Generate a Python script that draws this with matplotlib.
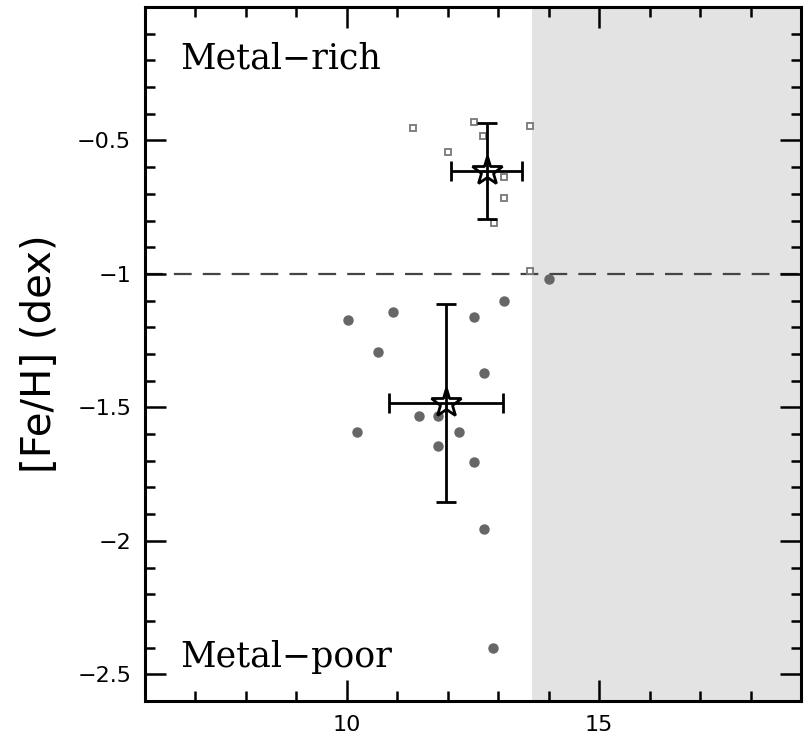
import matplotlib as mpl
mpl.use('Agg')
import matplotlib.pyplot as plt

# metal-rich sample (open squares)
rich_x = [11.31, 12.52, 12.70, 12.01, 13.62, 13.11, 13.11, 12.92, 13.62]
rich_y = [-0.453, -0.431, -0.485, -0.545, -0.445, -0.638, -0.717, -0.808, -0.99]

# metal-poor sample (filled circles)
poor_x = [10.02, 10.92, 12.52, 13.11, 10.62, 12.72, 11.42, 11.81, 10.21,
          12.22, 11.81, 12.52, 12.72, 12.90, 14.01]
poor_y = [-1.172, -1.142, -1.160, -1.100, -1.291, -1.372, -1.534, -1.534, -1.594,
          -1.594, -1.643, -1.705, -1.957, -2.40, -1.02]

# group means with errors
mean_x = [12.77, 11.96]
mean_y = [-0.613, -1.483]
mean_xerr = [0.70, 1.13]
mean_yerr = [0.18, 0.37]

split_feh = -1.0
shade_start = 13.67

fig = plt.figure(figsize=(8.08, 7.39), dpi=100)
ax = fig.add_axes([0.1795, 0.0514, 0.8118, 0.9391])

ax.axvspan(shade_start, 19, color='#e3e3e3', lw=0, zorder=0)
ax.axhline(split_feh, color='#444444', lw=1.6, dashes=(8, 5), zorder=1)

ax.plot(rich_x, rich_y, 's', ms=5, mfc='white', mec='#777777', mew=1.3, zorder=2)
ax.plot(poor_x, poor_y, 'o', ms=6.5, mfc='#666666', mec='#666666', zorder=2)

ax.errorbar(mean_x, mean_y, xerr=mean_xerr, yerr=mean_yerr, fmt='none',
            ecolor='black', elinewidth=2, capsize=7, capthick=2, zorder=3)
ax.plot(mean_x, mean_y, '*', ms=22, mfc='none', mec='black', mew=2, zorder=4)

ax.set_xlim(6, 19)
ax.set_ylim(-2.6, 0.0)
ax.set_xticks([10, 15])
ax.set_xticks(range(7, 19), minor=True)
ax.set_yticks([-2.5, -2, -1.5, -1, -0.5])
ax.set_yticklabels(['\u22122.5', '\u22122', '\u22121.5', '\u22121', '\u22120.5'])
ax.set_yticks([-2.6 + 0.1 * i for i in range(1, 26)], minor=True)

ax.tick_params(which='both', direction='in', top=True, right=True, width=1.8,
               labelsize=16, pad=10)
ax.tick_params(which='major', length=15)
ax.tick_params(which='minor', length=7.5)
for s in ax.spines.values():
    s.set_linewidth(2.2)

ax.set_ylabel('[Fe/H] (dex)', fontsize=29, labelpad=12)

ax.text(0.053, 0.926, 'Metal\u2212rich', transform=ax.transAxes, fontsize=25,
        family='DejaVu Serif', va='center', ha='left')
ax.text(0.053, 0.064, 'Metal\u2212poor', transform=ax.transAxes, fontsize=25,
        family='DejaVu Serif', va='center', ha='left')

fig.savefig('out.png', dpi=100)
